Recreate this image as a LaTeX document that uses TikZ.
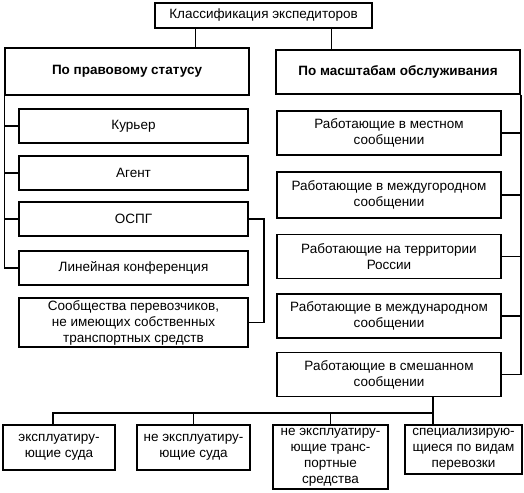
\documentclass[tikz,border=0pt]{standalone}
\usepackage{fontspec}
\setmainfont{Liberation Sans}
\begin{document}
\begin{tikzpicture}[x=1pt, y=-1pt, line width=1.5pt,
  box/.style={draw, align=center, inner sep=1pt, font=\fontsize{13.5}{16}\selectfont},
  head/.style={box, font=\fontsize{13.5}{16}\selectfont\bfseries},
  lkid/.style={box, minimum width=229pt, minimum height=34pt},
  rkid/.style={box, minimum width=224pt, minimum height=44pt},
  bkid/.style={box, minimum height=45pt}]
  \useasboundingbox (0,0) rectangle (524,492);

  \node[box, minimum width=217pt, minimum height=25pt] (top) at (263.5,15.5) {Классификация экспедиторов};
  \node[head, minimum width=244pt, minimum height=47pt] (lhead) at (127,71.5) {По правовому статусу};
  \node[head, minimum width=244pt, minimum height=44pt] (rhead) at (398,72) {По масштабам обслуживания};
  \draw ([xshift=-68pt]top.south) coordinate (tl) -- (tl |- lhead.north);
  \draw ([xshift=68pt]top.south) coordinate (tr) -- (tr |- rhead.north);

  \node[lkid] (kur) at (133.5,126) {Курьер};
  \node[lkid] (agent) at (133.5,173) {Агент};
  \node[lkid] (ospg) at (133.5,219) {ОСПГ};
  \node[lkid] (lin) at (133.5,268) {Линейная конференция};
  \node[lkid, minimum height=49pt] (soob) at (133.5,322.5) {Сообщества перевозчиков,\\не имеющих собственных\\транспортных средств};
  \draw (lhead.south west) |- (lin.west);
  \foreach \n in {kur,agent,ospg}
    \draw (\n.west) -- (\n.west -| lhead.west);
  \draw (ospg.east) -- ++(15,0) |- (soob.east);

  \node[rkid] (mest) at (389,133) {Работающие в местном\\сообщении};
  \node[rkid, minimum height=46pt] (mezhgor) at (389,195) {Работающие в междугородном\\сообщении};
  \node[rkid] (ross) at (389,256.5) {Работающие на территории\\России};
  \node[rkid] (mezhnar) at (389,316) {Работающие в международном\\сообщении};
  \node[rkid] (smesh) at (389,374.5) {Работающие в смешанном\\сообщении};
  \draw (rhead.south east) |- (smesh.east);
  \foreach \n in {mest,mezhgor,ross,mezhnar}
    \draw (\n.east) -- (\n.east -| rhead.east);

  \node[bkid, minimum width=112pt] (sud) at (59,447.5) {эксплуатиру-\\ющие суда};
  \node[bkid, minimum width=113pt] (nesud) at (193.5,447.5) {не эксплуатиру-\\ющие суда};
  \node[bkid, minimum width=115pt, minimum height=64pt] (netr) at (330.5,457) {не эксплуатиру-\\ющие транс-\\портные\\средства};
  \node[bkid, minimum width=117pt, minimum height=49pt] (spec) at (463.5,449.5) {специализирую-\\щиеся по видам\\перевозки};
  \coordinate (bus) at (433,413);
  \draw (smesh.south -| bus) -- (spec.north -| bus);
  \draw ([xshift=-6pt]sud.north) |- (bus);
  \draw (nesud.north) -- (nesud.north |- bus);
  \draw (netr.north) -- (netr.north |- bus);
\end{tikzpicture}
\end{document}
